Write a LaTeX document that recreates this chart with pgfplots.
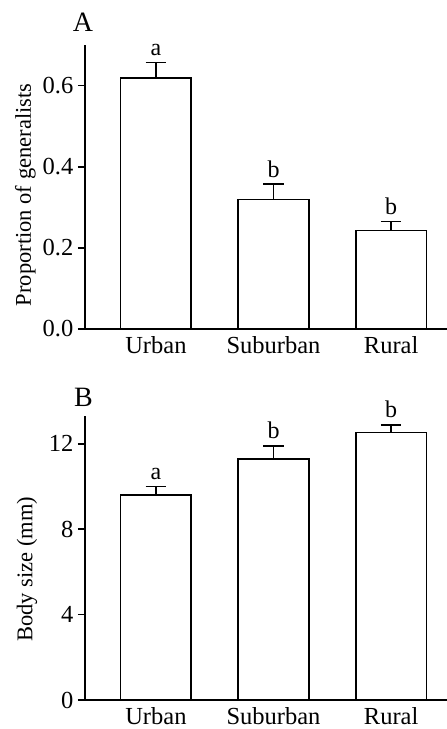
\documentclass[border=0pt]{standalone}
\usepackage{pgfplots}
\pgfplotsset{compat=1.18}
\usepackage{fontspec}
\setmainfont{Liberation Serif}
\pgfplotstableread{
x y err
0 0.618 0.039
1 0.319 0.038
2 0.243 0.022
}\dataA
\pgfplotstableread{
x y err
0 9.61 0.38
1 11.28 0.62
2 12.53 0.35
}\dataB
\tikzset{letter/.style={anchor=base, yshift=7pt, font=\fontsize{24}{28}\selectfont}}
\begin{document}
\begin{tikzpicture}
\useasboundingbox (0pt,0pt) rectangle (447pt,-729pt);
\pgfplotsset{
  panel/.style={
    scale only axis, width=362pt, height=284pt,
    axis lines=left, axis line style={-, line width=1.6pt, black},
    xmin=-0.603, xmax=2.475, ymin=0,
    xtick={0,1,2}, xticklabels={Urban,Suburban,Rural},
    xtick style={draw=none},
    ytick style={line width=1.6pt, black},
    tick align=outside, major tick length=7pt,
    tick label style={font=\fontsize{24.5}{28}\selectfont},
    yticklabel style={inner xsep=4.5pt},
    xticklabel style={inner ysep=0.5pt},
    label style={font=\fontsize{22.5}{27}\selectfont},
    /pgf/number format/assume math mode=true,
    clip=false,
  },
  barplot/.style={
    ybar, bar width=70.5pt, fill=white, draw=black, line width=1.6pt,
    error bars/.cd, y dir=plus, y explicit,
    error bar style={line width=1.6pt, black},
    error mark options={rotate=90, line width=1.6pt, mark size=10.3pt, black},
  },
}
\begin{axis}[panel, at={(85pt,-329pt)}, anchor=south west, ymax=0.7,
  ytick={0,0.2,0.4,0.6},
  yticklabel style={/pgf/number format/.cd, fixed, fixed zerofill, precision=1},
  ylabel={Proportion of generalists},
  ylabel style={at={(axis description cs:-0.165,0.472)}, anchor=center},
  ]
\addplot[barplot] table[x=x, y=y, y error=err] {\dataA};
\node[letter] at (axis cs:0,0.657) {a};
\node[letter] at (axis cs:1,0.357) {b};
\node[letter] at (axis cs:2,0.265) {b};
\end{axis}
\begin{axis}[panel, at={(85pt,-700pt)}, anchor=south west, ymax=13.3,
  ytick={0,4,8,12},
  ylabel={Body size (mm)},
  ylabel style={at={(axis description cs:-0.16,0.461)}, anchor=center},
  ]
\addplot[barplot] table[x=x, y=y, y error=err] {\dataB};
\node[letter] at (axis cs:0,9.99) {a};
\node[letter] at (axis cs:1,11.90) {b};
\node[letter] at (axis cs:2,12.88) {b};
\end{axis}
\node[anchor=base, font=\fontsize{28}{32}\selectfont] at (83pt,-31.7pt) {A};
\node[anchor=base, font=\fontsize{28}{32}\selectfont] at (83.5pt,-406.7pt) {B};
\end{tikzpicture}
\end{document}
